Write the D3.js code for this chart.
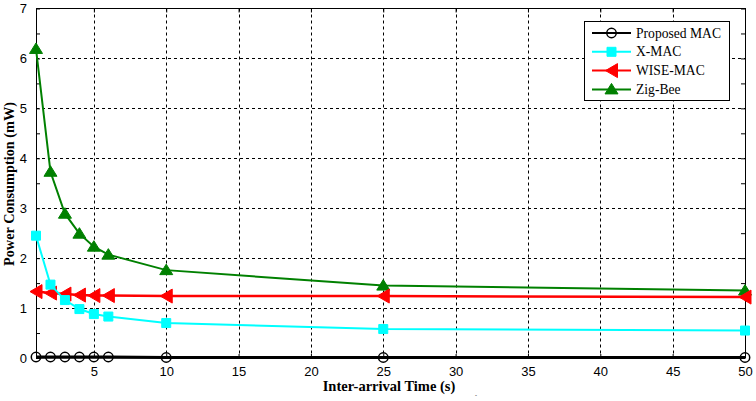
<!DOCTYPE html>
<html><head><meta charset="utf-8">
<script src="https://cdn.jsdelivr.net/npm/d3@7"></script>
<style>body{margin:0;background:#fff}svg{display:block}</style>
</head><body>
<svg id="c" width="756" height="401"></svg>
<script>
const xVals = [1, 2, 3, 4, 5, 6, 10, 25, 50];
const proposedMAC = [0.02, 0.02, 0.02, 0.02, 0.02, 0.02, 0.01, 0.01, 0.01];
const xMAC = [2.45, 1.47, 1.16, 0.98, 0.88, 0.83, 0.70, 0.58, 0.55];
const wiseMAC = [1.33, 1.30, 1.28, 1.26, 1.25, 1.25, 1.24, 1.24, 1.22];
const zigBee = [6.19, 3.73, 2.89, 2.49, 2.23, 2.07, 1.76, 1.45, 1.35];
const xTicks = [5, 10, 15, 20, 25, 30, 35, 40, 45, 50];
const yTicks = [0, 1, 2, 3, 4, 5, 6, 7];
const seriesNames = ["Proposed MAC", "X-MAC", "WISE-MAC", "Zig-Bee"];

const series = [
  {name: seriesNames[0], vals: proposedMAC, color: "#000000", marker: "circle", lw: 3},
  {name: seriesNames[1], vals: xMAC, color: "#00ffff", marker: "square", lw: 2},
  {name: seriesNames[2], vals: wiseMAC, color: "#ff0000", marker: "left", lw: 2.5},
  {name: seriesNames[3], vals: zigBee, color: "#008000", marker: "up", lw: 2}
];

const svg = d3.select("#c");
const L = 36, R = 745, T = 8.5, B = 358;
const x = d3.scaleLinear().domain([1, 50]).range([L, R]);
const y = d3.scaleLinear().domain([0, 7]).range([B, T]);

// grid
const g = svg.append("g");
g.selectAll(".gx").data(xTicks).enter().append("line")
  .attr("x1", d => Math.round(x(d)) + 0.5).attr("x2", d => Math.round(x(d)) + 0.5)
  .attr("y1", T).attr("y2", B).attr("stroke", "#000").attr("stroke-width", 1).attr("stroke-dasharray", "3,3");
g.selectAll(".gy").data(yTicks.slice(1, -1)).enter().append("line")
  .attr("y1", d => Math.round(y(d)) + 0.5).attr("y2", d => Math.round(y(d)) + 0.5)
  .attr("x1", L).attr("x2", R).attr("stroke", "#000").attr("stroke-width", 1).attr("stroke-dasharray", "3,3");

// axes
const yMinor = d3.range(0, 7.01, 0.5);
const axL = d3.axisLeft(y).tickValues(yMinor).tickSize(-4).tickFormat(d => Number.isInteger(d) ? d : "").tickPadding(9);
const axR = d3.axisRight(y).tickValues(yMinor).tickSize(-4).tickFormat("");
const axB = d3.axisBottom(x).tickValues(xTicks).tickSize(-4).tickPadding(9);
const axT = d3.axisTop(x).tickValues(xTicks).tickSize(-4).tickFormat("");
function style(sel) {
  sel.select(".domain").remove();
  sel.selectAll("line").attr("stroke", "#000");
  sel.selectAll("text").attr("font-family", "Liberation Sans, Arial, sans-serif").attr("font-size", 13).attr("fill", "#000");
}
svg.append("g").attr("transform", `translate(${L},0)`).call(axL).call(style);
svg.append("g").attr("transform", `translate(${R},0)`).call(axR).call(style);
svg.append("g").attr("transform", `translate(0,${B})`).call(axB).call(style);
svg.append("g").attr("transform", `translate(0,${T})`).call(axT).call(style);
svg.append("rect").attr("x", L + 0.5).attr("y", T).attr("width", R - L).attr("height", B - T)
  .attr("fill", "none").attr("stroke", "#000").attr("stroke-width", 1);

// series
const line = d3.line().x((d, i) => x(xVals[i])).y(d => y(d));
const sym = {
  circle: d3.symbol().type(d3.symbolCircle).size(70),
  square: d3.symbol().type(d3.symbolSquare).size(81)
};
function marker(sel, s, px, py) {
  if (s.marker === "left") {
    sel.append("path").attr("d", "M-6,0L6,-7L6,7Z").attr("transform", `translate(${px},${py})`)
      .attr("fill", s.color).attr("stroke", s.color);
  } else if (s.marker === "circle") {
    sel.append("path").attr("d", sym.circle()).attr("transform", `translate(${px},${py})`)
      .attr("fill", "none").attr("stroke", s.color).attr("stroke-width", 1.5);
  } else if (s.marker === "up") {
    sel.append("path").attr("d", "M0,-6L6.5,4.5L-6.5,4.5Z").attr("transform", `translate(${px},${py})`)
      .attr("fill", s.color).attr("stroke", s.color);
  } else {
    sel.append("path").attr("d", sym.square()).attr("transform", `translate(${px},${py})`)
      .attr("fill", s.color).attr("stroke", s.color);
  }
}
const order = [3, 2, 1, 0];
order.forEach(k => {
  const s = series[k];
  const sg = svg.append("g");
  sg.append("path").datum(s.vals).attr("d", line).attr("fill", "none")
    .attr("stroke", s.color).attr("stroke-width", s.lw);
  s.vals.forEach((v, i) => marker(sg, s, x(xVals[i]), y(v)));
});

// labels
svg.append("text").attr("x", 389).attr("y", 391).attr("text-anchor", "middle")
  .attr("font-family", "Liberation Serif, Times New Roman, serif").attr("font-weight", "bold").attr("font-size", 14.5)
  .text("Inter-arrival Time (s)");
svg.append("text").attr("x", 476).attr("y", 397).attr("text-anchor", "middle")
  .attr("font-family", "Liberation Sans, Arial, sans-serif").attr("font-size", 6).text("-");
svg.append("text").attr("transform", "translate(14,184) rotate(-90)").attr("text-anchor", "middle")
  .attr("font-family", "Liberation Serif, Times New Roman, serif").attr("font-weight", "bold").attr("font-size", 14.3)
  .text("Power Consumption (mW)");

// legend
const lg = svg.append("g");
lg.append("rect").attr("x", 584.5).attr("y", 21.5).attr("width", 145).attr("height", 79)
  .attr("fill", "#fff").attr("stroke", "#000").attr("stroke-width", 1);
series.forEach((s, i) => {
  const yy = 33 + i * 18.8;
  lg.append("line").attr("x1", 592).attr("x2", 631).attr("y1", yy).attr("y2", yy)
    .attr("stroke", s.color).attr("stroke-width", 2);
  marker(lg, s, 611.5, yy);
  lg.append("text").attr("x", 636).attr("y", yy + 4.5)
    .attr("font-family", "Liberation Serif, Times New Roman, serif").attr("font-size", 13.6).text(s.name);
});
</script>
</body></html>
